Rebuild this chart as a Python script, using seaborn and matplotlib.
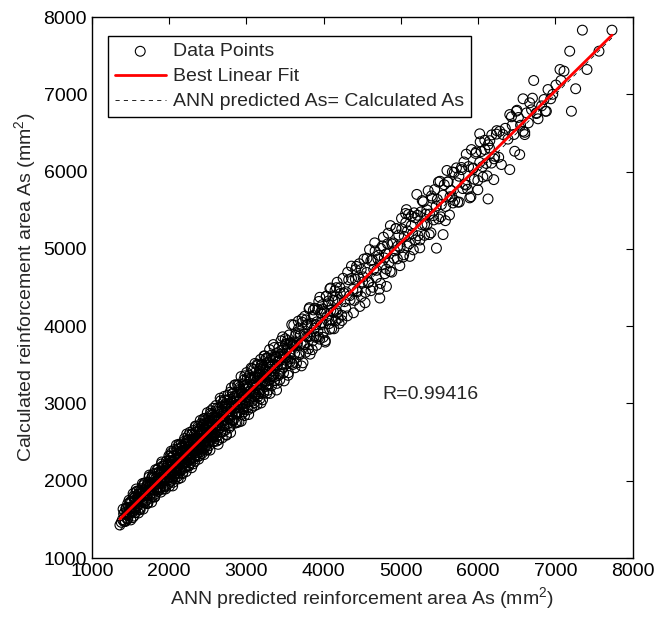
import numpy as np
import pandas as pd
import matplotlib
matplotlib.use("Agg")
import matplotlib.pyplot as plt
import seaborn as sns

# ANN predicted As (x) and calculated As (y) in x-bands
band1_x = [1362, 1380, 1395, 1410, 1425, 1440, 1450, 1460, 1475, 1490, 1500, 1510, 1520, 1535,
           1545, 1555, 1565, 1575, 1585, 1595, 1605, 1615, 1625, 1635, 1645, 1655, 1665, 1672,
           1680, 1690, 1700, 1708, 1716, 1725, 1733, 1740, 1748, 1756, 1764, 1772, 1780, 1788,
           1796, 1804, 1812, 1820, 1828, 1836, 1844, 1852, 1860, 1868, 1876, 1884, 1892, 1900,
           1908, 1916, 1924, 1932, 1940, 1948, 1956, 1964, 1972, 1980, 1988, 1996]
band1_y = [1427, 1462, 1497, 1572, 1477, 1642, 1572, 1502, 1657, 1582, 1732, 1652, 1592, 1797,
           1657, 1747, 1587, 1727, 1867, 1677, 1827, 1737, 1627, 1807, 1897, 1717, 1867, 1804,
           1972, 1722, 1877, 1805, 1943, 1712, 1880, 2047, 1815, 1953, 1881, 2039, 1797, 1955,
           1883, 2041, 1789, 1957, 2035, 1883, 2141, 2009, 1957, 2115, 1883, 2071, 2019, 2217,
           1965, 2133, 1891, 2099, 2197, 2025, 2083, 2251, 1999, 2177, 2094, 2323]

band1b_x = [1403, 1413, 1423, 1433, 1443, 1453, 1463, 1473, 1483, 1493, 1503, 1513, 1523, 1533,
            1543, 1553, 1563, 1573, 1583, 1593, 1603, 1613, 1623, 1633, 1643, 1653, 1663, 1673,
            1683, 1693, 1703, 1713, 1723, 1733, 1743, 1753, 1763, 1773, 1783, 1793, 1803, 1813,
            1823, 1833, 1843, 1853, 1863, 1873, 1883, 1893, 1903, 1913, 1923, 1933, 1943, 1953,
            1963, 1973, 1983, 1993]
band1b_y = [1633, 1473, 1588, 1473, 1643, 1553, 1703, 1553, 1628, 1713, 1493, 1723, 1643, 1833,
            1543, 1783, 1623, 1893, 1673, 1763, 1583, 1873, 1653, 1833, 1753, 1963, 1633, 1823,
            1963, 1743, 1923, 1703, 1973, 1833, 2073, 1773, 1953, 1723, 2063, 1923, 2043, 1793,
            2143, 1903, 2003, 1863, 2163, 1913, 2093, 1853, 2243, 2003, 2183, 1933, 2113, 1893,
            2253, 2023, 2213, 1963]

band2_x = [2004, 2010, 2016, 2022, 2028, 2034, 2040, 2046, 2052, 2058, 2064, 2070, 2076, 2082,
           2088, 2094, 2100, 2106, 2112, 2118, 2124, 2130, 2136, 2142, 2148, 2154, 2160, 2166,
           2172, 2178, 2184, 2190, 2196, 2202, 2208, 2214, 2220, 2226, 2232, 2238, 2244, 2250,
           2256, 2262, 2268, 2274, 2280, 2286, 2292, 2298, 2304, 2310, 2316, 2322, 2328, 2334,
           2340, 2346, 2352, 2358, 2364, 2370, 2376, 2382, 2388, 2394, 2400, 2406, 2412, 2418,
           2424, 2430, 2436, 2442, 2448, 2454, 2460, 2466, 2472, 2478, 2484, 2490, 2496, 2502,
           2508, 2514, 2520, 2526, 2532, 2538, 2544, 2550, 2556, 2562, 2568, 2574, 2580, 2586,
           2592, 2598]
band2_y = [2092, 2258, 1994, 2210, 2146, 2362, 2078, 2204, 1980, 2326, 2162, 2278, 2084, 2220,
           2386, 2162, 2278, 2054, 2340, 2226, 2472, 2158, 2304, 2220, 2426, 2142, 2308, 2384,
           2090, 2366, 2282, 2508, 2244, 2440, 2176, 2372, 2338, 2514, 2240, 2436, 2332, 2588,
           2194, 2390, 2516, 2332, 2458, 2284, 2600, 2406, 2522, 2218, 2484, 2390, 2596, 2362,
           2488, 2704, 2330, 2556, 2462, 2668, 2414, 2520, 2636, 2322, 2578, 2484, 2740, 2416,
           2632, 2548, 2714, 2400, 2606, 2512, 2808, 2484, 2660, 2576, 2742, 2408, 2634, 2810,
           2556, 2732, 2498, 2694, 2640, 2906, 2552, 2748, 2624, 2850, 2506, 2722, 2818, 2614,
           2770, 2696]

band2b_x = [2003, 2010, 2017, 2024, 2031, 2038, 2045, 2052, 2059, 2066, 2073, 2080, 2087, 2094,
            2101, 2108, 2115, 2122, 2129, 2136, 2143, 2150, 2157, 2164, 2171, 2178, 2185, 2192,
            2199, 2206, 2213, 2220, 2227, 2234, 2241, 2248, 2255, 2262, 2269, 2276, 2283, 2290,
            2297, 2304, 2311, 2318, 2325, 2332, 2339, 2346, 2353, 2360, 2367, 2374, 2381, 2388,
            2395, 2402, 2409, 2416, 2423, 2430, 2437, 2444, 2451, 2458, 2465, 2472, 2479, 2486,
            2493, 2500, 2507, 2514, 2521, 2528, 2535, 2542, 2549, 2556, 2563, 2570, 2577, 2584,
            2591]
band2b_y = [1931, 2318, 2085, 2382, 2009, 2256, 1933, 2320, 2167, 2404, 2021, 2268, 2105, 2462,
            2139, 2406, 2023, 2280, 2457, 2134, 2381, 2038, 2475, 2252, 2449, 2106, 2393, 2160,
            2547, 2324, 2471, 2118, 2605, 2292, 2529, 2186, 2433, 2270, 2627, 2234, 2511, 2168,
            2605, 2402, 2649, 2306, 2523, 2250, 2707, 2394, 2631, 2308, 2515, 2702, 2279, 2636,
            2463, 2780, 2377, 2634, 2351, 2728, 2455, 2802, 2339, 2626, 2783, 2460, 2717, 2394,
            2881, 2578, 2775, 2452, 2719, 2396, 2873, 2580, 2857, 2534, 2721, 2938, 2505, 2832,
            2599]

band3_x = [2604, 2612, 2620, 2628, 2636, 2644, 2652, 2660, 2668, 2676, 2684, 2692, 2700, 2708,
           2716, 2724, 2732, 2740, 2748, 2756, 2764, 2772, 2780, 2788, 2796, 2804, 2812, 2820,
           2828, 2836, 2844, 2852, 2860, 2868, 2876, 2884, 2892, 2900, 2908, 2916, 2924, 2932,
           2940, 2948, 2956, 2964, 2972, 2980, 2988, 2996, 3004, 3012, 3020, 3028, 3036, 3044,
           3052, 3060, 3068, 3076, 3084, 3092, 3100, 3108, 3116, 3124, 3132, 3140, 3148, 3156,
           3164, 3172, 3180, 3188, 3196, 3204, 3212, 3220, 3228, 3236, 3244, 3252, 3260, 3268,
           3276, 3284, 3292, 3300]
band3_y = [2812, 2570, 2938, 2706, 2884, 2532, 2800, 2688, 3036, 2784, 2962, 2630, 2878, 2706,
           3044, 2782, 2950, 2598, 2886, 3044, 2742, 2970, 2868, 3146, 2714, 2962, 2850, 3128,
           2776, 3064, 2942, 3240, 2868, 3036, 2754, 3142, 2960, 3238, 2876, 3044, 3162, 2770,
           3128, 2996, 3254, 2892, 3120, 3358, 3006, 3204, 3092, 3330, 2918, 3206, 3024, 3312,
           3160, 3458, 3026, 3234, 3142, 3440, 2968, 3326, 3144, 3412, 3230, 3508, 3086, 3294,
           3412, 3150, 3368, 3006, 3504, 3282, 3440, 3138, 3616, 3284, 3412, 3220, 3588, 3356,
           3534, 3172, 3490, 3308]

band3b_x = [2606, 2615, 2624, 2633, 2642, 2651, 2660, 2669, 2678, 2687, 2696, 2705, 2714, 2723,
            2732, 2741, 2750, 2759, 2768, 2777, 2786, 2795, 2804, 2813, 2822, 2831, 2840, 2849,
            2858, 2867, 2876, 2885, 2894, 2903, 2912, 2921, 2930, 2939, 2948, 2957, 2966, 2975,
            2984, 2993, 3002, 3011, 3020, 3029, 3038, 3047, 3056, 3065, 3074, 3083, 3092, 3101,
            3110, 3119, 3128, 3137, 3146, 3155, 3164, 3173, 3182, 3191, 3200, 3209, 3218, 3227,
            3236, 3245, 3254, 3263, 3272, 3281, 3290, 3299]
band3b_y = [2974, 2513, 2822, 2471, 2930, 2709, 3068, 2637, 2826, 2555, 3014, 2713, 3092, 2651,
            2970, 2589, 2928, 3107, 2846, 2685, 3054, 2623, 3202, 2851, 3130, 2789, 2968, 3237,
            2746, 3095, 2864, 3243, 2992, 2761, 3210, 2949, 3348, 2857, 3136, 2935, 3304, 2843,
            3232, 3081, 3400, 2949, 3188, 2857, 3366, 3065, 3334, 2943, 3452, 3141, 3330, 3009,
            3518, 3117, 3286, 2985, 3494, 3123, 3372, 3061, 3570, 3299, 3498, 3047, 3476, 3145,
            3614, 3293, 3582, 3131, 3420, 3589, 3248, 3697]

# the crowded core of the band (close to the fit line)
core_lo_x = [1450, 1465, 1480, 1495, 1510, 1525, 1540, 1555, 1570, 1585, 1600, 1615,
             1630, 1645, 1660, 1675, 1690, 1705, 1720, 1735, 1750, 1765, 1780, 1795,
             1810, 1825, 1840, 1855, 1870, 1885, 1900, 1915, 1930, 1945, 1960, 1975,
             1990, 2005, 2020, 2035, 2050, 2065, 2080, 2095, 2110, 2125, 2140, 2155,
             2170, 2185, 2200, 2215, 2230, 2245, 2260, 2275, 2290, 2305, 2320, 2335,
             2350, 2365, 2380, 2395, 2410, 2425, 2440, 2455, 2470, 2485, 2500, 2515]
core_lo_y = [1647, 1512, 1747, 1602, 1657, 1522, 1777, 1632, 1857, 1712, 1777, 1632,
             1857, 1732, 1937, 1712, 1847, 1912, 1707, 1982, 1867, 1952, 1837, 2092,
             1817, 1992, 2097, 1922, 2007, 1912, 2117, 2192, 2027, 1922, 2157, 2102,
             2227, 2042, 2297, 2112, 2207, 2062, 2277, 2202, 2357, 2102, 2307, 2372,
             2237, 2322, 2227, 2472, 2327, 2532, 2267, 2452, 2337, 2542, 2437, 2322,
             2557, 2512, 2437, 2662, 2427, 2612, 2527, 2732, 2437, 2612, 2717, 2592]
core_hi_x = [2530, 2545, 2560, 2575, 2590, 2605, 2620, 2635, 2650, 2665, 2680, 2695,
             2710, 2725, 2740, 2755, 2770, 2785, 2800, 2815, 2830, 2845, 2860, 2875,
             2890, 2905, 2920, 2935, 2950, 2965, 2980, 2995, 3010, 3025, 3040, 3055,
             3070, 3085, 3100, 3115, 3130, 3145, 3160, 3175, 3190, 3205, 3220, 3235,
             3250, 3265, 3280, 3295, 3310, 3325, 3340, 3355, 3370, 3385, 3400, 3415,
             3430, 3445, 3460, 3475, 3490, 3505, 3520, 3535, 3550, 3565, 3580, 3595]
core_hi_y = [2777, 2572, 2717, 2572, 2787, 2701, 2896, 2671, 2806, 2631, 2906, 2781,
             2876, 2721, 2996, 2811, 2896, 2811, 3016, 2791, 3006, 3091, 2936, 2981,
             2896, 3101, 3186, 2981, 3086, 2921, 3186, 3081, 3246, 3091, 3156, 3311,
             3096, 3241, 3086, 3341, 3226, 3331, 3126, 3451, 3246, 3351, 3236, 3441,
             3376, 3241, 3526, 3371, 3476, 3351, 3596, 3341, 3496, 3591, 3496, 3361,
             3606, 3501, 3686, 3471, 3636, 3591, 3766, 3571, 3656, 3541, 3776, 3761]

band4_x = [3312, 3324, 3336, 3348, 3360, 3372, 3384, 3396, 3408, 3420, 3432, 3444, 3456, 3468,
           3480, 3492, 3504, 3516, 3528, 3540, 3552, 3564, 3576, 3588, 3600, 3612, 3624, 3636,
           3648, 3660, 3672, 3684, 3696, 3708, 3720, 3732, 3744, 3756, 3768, 3780, 3792, 3804,
           3816, 3828, 3840, 3852, 3864, 3876, 3888, 3900, 3912, 3924, 3936, 3948, 3960, 3972,
           3984, 3996, 4008, 4020, 4032, 4044, 4056, 4068, 4080, 4092, 4104, 4116, 4128, 4140,
           4152, 4164, 4176, 4188, 4200]
band4_y = [3566, 3228, 3500, 3362, 3724, 3446, 3608, 3260, 3542, 3724, 3386, 3638, 3500, 3862,
           3394, 3606, 3768, 3510, 3702, 3364, 3886, 3648, 3790, 3522, 3744, 4016, 3648, 3880,
           3522, 3784, 3966, 3658, 3880, 3772, 4094, 3526, 3898, 3760, 4082, 3864, 4026, 3708,
           4240, 3872, 4034, 3696, 4138, 3970, 4232, 3854, 4056, 3938, 4320, 3832, 4174, 4046,
           4278, 3920, 4172, 3794, 4386, 4078, 4290, 4032, 4484, 4206, 3968, 4390, 4182, 4334,
           4066, 4498, 4170, 4342, 4034]

band4b_x = [3306, 3320, 3334, 3348, 3362, 3376, 3390, 3404, 3418, 3432, 3446, 3460, 3474, 3488,
            3502, 3516, 3530, 3544, 3558, 3572, 3586, 3600, 3614, 3628, 3642, 3656, 3670, 3684,
            3698, 3712, 3726, 3740, 3754, 3768, 3782, 3796, 3810, 3824, 3838, 3852, 3866, 3880,
            3894, 3908, 3922, 3936, 3950, 3964, 3978, 3992, 4006, 4020, 4034, 4048, 4062, 4076,
            4090, 4104, 4118, 4132, 4146, 4160, 4174, 4188]
band4b_y = [3130, 3624, 3378, 3762, 3296, 3570, 3174, 3658, 3542, 3306, 3810, 3444, 3638, 3292,
            3836, 3590, 3814, 3398, 3782, 3586, 4020, 3504, 3758, 3462, 3916, 3750, 4064, 3628,
            3902, 3486, 4050, 3764, 4128, 3662, 4016, 3860, 4224, 3638, 4002, 3806, 4210, 3874,
            4018, 3752, 4216, 3860, 4374, 4018, 4222, 3856, 4190, 3814, 4388, 4132, 4326, 3960,
            4494, 4078, 4332, 3966, 4460, 4204, 4568, 4102]

band5_x = [4215, 4233, 4251, 4269, 4287, 4305, 4323, 4341, 4359, 4377, 4395, 4413, 4424, 4431,
           4449, 4467, 4485, 4503, 4521, 4539, 4557, 4575, 4593, 4611, 4629, 4647, 4665, 4683,
           4701, 4719, 4726, 4737, 4755, 4773, 4791, 4809, 4812, 4827, 4845, 4863, 4881, 4899,
           4917, 4935, 4953, 4971, 4989, 5007, 5025, 5043, 5061, 5071, 5079, 5097, 5115, 5133,
           5151, 5169, 5187]
band5_y = [4423, 4141, 4619, 4317, 4445, 4133, 4601, 4339, 4777, 4475, 4333, 4731, 4773, 4459,
           4637, 4255, 4733, 4571, 4869, 4437, 4695, 4563, 4991, 4459, 4857, 4735, 4973, 4631,
           4869, 4477, 4364, 5005, 4793, 5151, 4679, 4937, 4514, 5065, 4823, 5301, 4699, 5077,
           4975, 5263, 4871, 5179, 5017, 5395, 4893, 5161, 5339, 5508, 5037, 5445, 4903, 5301,
           5199, 5467, 5115]

band5b_x = [4210, 4235, 4260, 4285, 4310, 4335, 4360, 4385, 4410, 4435, 4460, 4485, 4510, 4535,
            4560, 4585, 4610, 4635, 4660, 4685, 4710, 4735, 4760, 4785, 4810, 4835, 4860, 4885,
            4910, 4935, 4960, 4985, 5010, 5035, 5060, 5085, 5110, 5135, 5160, 5185]
band5b_y = [4498, 4073, 4428, 4233, 4698, 4393, 4618, 4173, 4608, 4443, 4808, 4383, 4638, 4303,
            4878, 4573, 4848, 4503, 5078, 4723, 4918, 4553, 5038, 4883, 4738, 5203, 4708, 5063,
            4878, 5263, 5038, 4783, 5258, 4923, 5458, 5233, 5068, 5423, 4988, 5403]

band6_x = [5205, 5220, 5243, 5258, 5272, 5290, 5305, 5320, 5338, 5352, 5370, 5388, 5405, 5420,
           5437, 5459, 5470, 5488, 5505, 5523, 5545, 5560, 5578, 5595, 5610, 5628, 5645, 5660,
           5674, 5690, 5718, 5735, 5750, 5783, 5800, 5825, 5845, 5862, 5890, 5912, 5930, 5950,
           5975, 5995, 6019, 6019, 6040, 6060, 6085, 6105, 6127, 6127, 6150, 6170, 6201, 6213,
           6240, 6265, 6278, 6300]
band6_y = [5705, 5170, 5013, 5478, 5312, 5610, 5175, 5450, 5318, 5752, 5450, 5208, 5655, 5430,
           5767, 5009, 5640, 5388, 5875, 5573, 5185, 5830, 5548, 6015, 5870, 5438, 5755, 5670,
           5594, 5990, 6048, 5605, 5940, 6053, 5780, 5835, 6225, 5772, 5660, 6285, 6040, 5900,
           6255, 5765, 6119, 6489, 6260, 5930, 6405, 6105, 6347, 5646, 6400, 6110, 5896, 6198,
           6530, 6185, 6522, 6091]

band6b_x = [5215, 5245, 5275, 5305, 5335, 5365, 5395, 5425, 5455, 5485, 5515, 5545, 5575, 5605,
            5635, 5665, 5695, 5725, 5755, 5785, 5815, 5845, 5875, 5905, 5935, 5965, 5995, 6025,
            6055, 6085, 6115, 6145, 6175, 6205, 6235]
band6b_y = [5435, 5115, 5625, 5315, 5505, 5185, 5685, 5375, 5555, 5865, 5415, 5695, 5365, 5865,
            5675, 5995, 5625, 5855, 5605, 6025, 6125, 5825, 6065, 5675, 6045, 6235, 5885, 6385,
            6065, 6285, 5945, 6305, 6475, 6165, 6485]

band7_x = [6321, 6350, 6385, 6408, 6408, 6430, 6440, 6462, 6472, 6494, 6502, 6520, 6537, 6548,
           6580, 6580, 6602, 6602, 6625, 6648, 6666, 6690, 6702, 6718, 6752, 6753, 6774, 6820,
           6851, 6869, 6882, 6903, 6938, 6965, 7005, 7058, 7071, 7110, 7184, 7206, 7261, 7348,
           7408, 7563, 7731]
band7_y = [6479, 6560, 6420, 6026, 6738, 6709, 6600, 6480, 6263, 6781, 6794, 6700, 6220, 6600,
           6942, 6522, 6508, 6479, 6760, 6630, 6890, 6800, 6950, 7179, 6760, 6751, 6683, 6850,
           6933, 6781, 6781, 7062, 6942, 7000, 7120, 7321, 7179, 7300, 7558, 6781, 7072, 7830,
           7321, 7558, 7830]

# best linear fit reported in the figure (calc = slope * pred + intercept)
fit_slope = 0.983
fit_intercept = 166
r_value = 0.99416

pred = (band1_x + band1b_x + band2_x + band2b_x + band3_x + band3b_x + core_lo_x + core_hi_x
        + band4_x + band4b_x + band5_x + band5b_x + band6_x + band6b_x + band7_x)
calc = (band1_y + band1b_y + band2_y + band2b_y + band3_y + band3b_y + core_lo_y + core_hi_y
        + band4_y + band4b_y + band5_y + band5b_y + band6_y + band6b_y + band7_y)
df = pd.DataFrame({"pred": pred, "calc": calc})

sns.set_style("white")
plt.rcParams["font.family"] = ["Liberation Sans", "DejaVu Sans"]
plt.rcParams["mathtext.fontset"] = "custom"
plt.rcParams["mathtext.rm"] = "Liberation Sans"
plt.rcParams["mathtext.it"] = "Liberation Sans:italic"

fig = plt.figure(figsize=(6.71, 6.19), dpi=100)
ax = fig.add_axes([0.137, 0.0985, 0.806, 0.874])

sns.scatterplot(data=df, x="pred", y="calc", marker="o", s=50, facecolor="none",
                edgecolor="black", linewidth=0.8, ax=ax, label="Data Points", zorder=2)

line_x = np.array([df["pred"].min(), df["pred"].max()])
sns.lineplot(x=line_x, y=fit_slope * line_x + fit_intercept, color="red", linewidth=2.0,
             ax=ax, label="Best Linear Fit", zorder=4)
sns.lineplot(x=line_x, y=line_x, color="black", linewidth=0.6, linestyle=(0, (5, 5)),
             ax=ax, label="ANN predicted As= Calculated As", zorder=3)

ax.set_xlim(1000, 8000)
ax.set_ylim(1000, 8000)
ax.set_xticks(range(1000, 8001, 1000))
ax.set_yticks(range(1000, 8001, 1000))
ax.tick_params(direction="in", length=5, width=0.8, top=True, right=True,
               labelsize=14, colors="black")
for sp in ax.spines.values():
    sp.set_color("black")
    sp.set_linewidth(1.0)

ax.set_xlabel("ANN predicted reinforcement area As (mm$^2$)", fontsize=14, labelpad=4)
ax.set_ylabel("Calculated reinforcement area As (mm$^2$)", fontsize=14, labelpad=4)

ax.text(4765, 3111, f"R={r_value}", fontsize=14, va="center", ha="left")

leg = ax.legend(loc="upper left", bbox_to_anchor=(0.03, 0.965), fontsize=14,
                frameon=True, fancybox=False, edgecolor="black", framealpha=1,
                handlelength=2.6, handletextpad=0.4, borderpad=0.35, labelspacing=0.38,
                borderaxespad=0)
leg.get_frame().set_linewidth(1.0)

fig.savefig("out.png", dpi=100)
plt.close(fig)
